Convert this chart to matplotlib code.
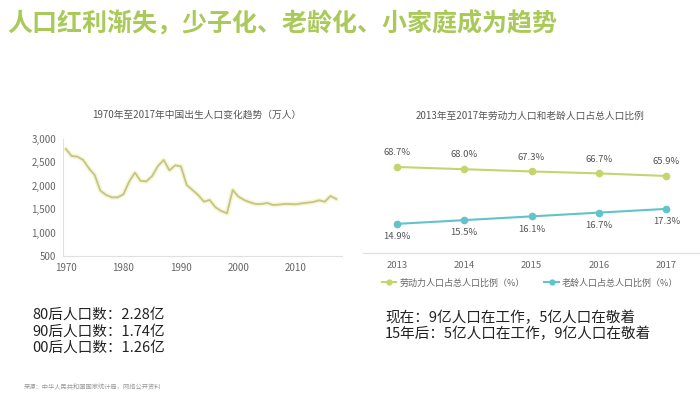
import matplotlib
matplotlib.use("Agg")
import matplotlib.pyplot as plt
from matplotlib.lines import Line2D

plt.rcParams['font.family'] = ['Noto Sans CJK SC', 'DejaVu Sans']

# ---- data ----
title_main = "人口红利渐失，少子化、老龄化、小家庭成为趋势"
left_title = "1970年至2017年中国出生人口变化趋势（万人）"
years = list(range(1970, 2018))
births = [2786, 2637, 2622, 2551, 2373, 2231, 1896, 1803, 1753, 1753,
          1818, 2088, 2281, 2103, 2095, 2209, 2423, 2551, 2330, 2437,
          2416, 2017, 1910, 1803, 1661, 1697, 1540, 1462, 1412, 1910,
          1768, 1697, 1647, 1611, 1611, 1632, 1590, 1597, 1611, 1611,
          1604, 1625, 1640, 1654, 1690, 1661, 1782, 1718]
left_yticks = [500, 1000, 1500, 2000, 2500, 3000]
left_xticks = [1970, 1980, 1990, 2000, 2010]

right_title = "2013年至2017年劳动力人口和老龄人口占总人口比例"
r_years = ["2013", "2014", "2015", "2016", "2017"]
labor = [68.7, 68.0, 67.3, 66.7, 65.9]
elderly = [14.9, 15.5, 16.1, 16.7, 17.3]
labor_name = "劳动力人口占总人口比例（%）"
elderly_name = "老龄人口占总人口比例（%）"

left_notes = ["80后人口数：2.28亿", "90后人口数：1.74亿", "00后人口数：1.26亿"]
right_notes = ["现在：9亿人口在工作，5亿人口在敬着", "15年后：5亿人口在工作，9亿人口在敬着"]
source = "来源：中华人民共和国国家统计局，网络公开资料"

W, H = 700, 399
fig = plt.figure(figsize=(7, 3.99), dpi=100)
fig.patch.set_facecolor('white')

def fx(px):
    return px / W

def fy(py):
    return 1 - py / H

# main title
fig.text(fx(7), fy(24), title_main, fontsize=18, fontweight='bold',
         color='#a9ca58', va='center', ha='left')

# ---- left chart ----
axl = fig.add_axes([fx(63), fy(256), fx(342) - fx(63), fy(139) - fy(256)])
axl.plot(years, births, color='#f6f6d2', lw=3.5, solid_capstyle='round', zorder=1)
axl.plot(years, births, color='#c4c48a', lw=1.3, zorder=2)
axl.set_xlim(1969.5, 2018)
axl.set_ylim(500, 3000)
axl.set_yticks(left_yticks)
axl.set_yticklabels([f"{v:,}" for v in left_yticks])
axl.set_xticks(left_xticks)
for s in ['top', 'right']:
    axl.spines[s].set_visible(False)
for s in ['left', 'bottom']:
    axl.spines[s].set_color('#e0e0e0')
    axl.spines[s].set_linewidth(0.8)
axl.tick_params(length=0, labelsize=7, colors='#666666', pad=5)
axl.patch.set_alpha(0)
fig.text(fx(197), fy(115), left_title, fontsize=7, color='#555555',
         ha='center', va='center')

# ---- right chart ----
pos = [fx(363), fy(252.7), fx(700) - fx(363), fy(140) - fy(252.7)]
axr = fig.add_axes(pos)
axr2 = axr.twinx()
x = list(range(len(r_years)))
c_labor = '#c5d56e'
c_eld = '#62c3ca'
axr.plot(x, labor, color=c_labor, lw=1.5, marker='o', ms=4.5, zorder=3)
axr2.plot(x, elderly, color=c_eld, lw=1.5, marker='o', ms=4.5, zorder=3)
axr.set_ylim(42.0, 77.1)
axr2.set_ylim(10.3, 28.3)
axr.set_xlim(-0.5, 4.5)
for i, v in enumerate(labor):
    axr.annotate(f"{v:.1f}%", (i, v), xytext=(0, 7), textcoords='offset points',
                 ha='center', va='bottom', fontsize=6.8, color='#555555')
for i, v in enumerate(elderly):
    axr2.annotate(f"{v:.1f}%", (i, v), xytext=(0, -6), textcoords='offset points',
                  ha='center', va='top', fontsize=6.8, color='#555555')
axr.set_xticks(x)
axr.set_xticklabels(r_years)
axr.set_yticks([])
axr2.set_yticks([])
for a in (axr, axr2):
    for s in ['top', 'right', 'left']:
        a.spines[s].set_visible(False)
    a.spines['bottom'].set_color('#e0e0e0')
    a.spines['bottom'].set_linewidth(0.8)
axr.tick_params(axis='x', length=0, labelsize=6.8, colors='#666666', pad=6)
fig.text(fx(530), fy(116), right_title, fontsize=7, color='#555555',
         ha='center', va='center')

handles = [Line2D([0], [0], color=c_labor, lw=1.5, marker='o', ms=3.5),
           Line2D([0], [0], color=c_eld, lw=1.5, marker='o', ms=3.5)]
fig.legend(handles, [labor_name, elderly_name], loc='center',
           bbox_to_anchor=(fx(530), fy(283)), ncol=2, frameon=False,
           fontsize=6.5, labelcolor='#666666', handlelength=1.6,
           handletextpad=0.3, columnspacing=2.2)

# ---- notes ----
for i, t in enumerate(left_notes):
    fig.text(fx(32), fy(315 + 16.5 * i), t, fontsize=10.5, color='#222222',
             ha='left', va='center')
for i, t in enumerate(right_notes):
    fig.text(fx(385), fy(318 + 16 * i), t, fontsize=10.5, color='#222222',
             ha='left', va='center')
fig.text(fx(24), fy(387), source, fontsize=4.5, color='#999999',
         ha='left', va='center')

fig.savefig('out.png', dpi=100, facecolor='white')
